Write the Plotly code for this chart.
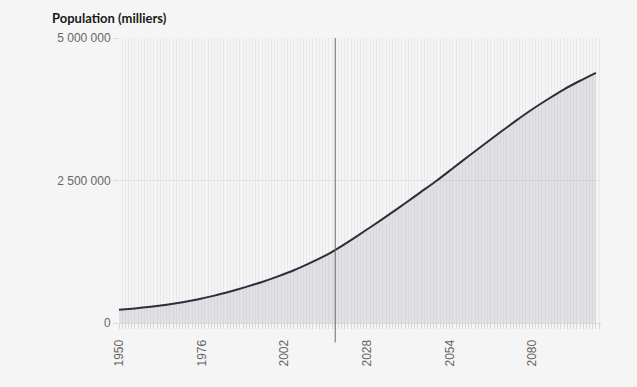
import plotly.graph_objects as go

years = list(range(1950, 2101, 5))
population = [
    232000, 256000, 286000, 322000, 366000, 418000, 480000, 553000,
    634000, 720000, 818000, 925000, 1050000, 1185000, 1350000, 1530000,
    1715000, 1905000, 2100000, 2300000, 2500000, 2715000, 2930000,
    3140000, 3350000, 3555000, 3750000, 3930000, 4100000, 4250000, 4390000,
]
x_tick_labels = [1950, 1976, 2002, 2028, 2054, 2080]
y_tick_values = [0, 2500000, 5000000]
marker_year = 2018
title_text = "Population (milliers)"

fig = go.Figure()
fig.add_trace(go.Scatter(
    x=years, y=population, mode="lines",
    line=dict(color="#29303d", width=2, shape="spline", smoothing=0.5),
    fill="tozeroy", fillcolor="rgba(180,180,188,0.30)",
    hoverinfo="skip", showlegend=False,
))

fig.add_shape(type="line", xref="x", yref="paper",
              x0=marker_year, x1=marker_year, y0=-0.068, y1=1,
              line=dict(color="#6b6b6b", width=1))

fig.update_layout(
    width=637, height=387,
    paper_bgcolor="#f5f5f5", plot_bgcolor="#f5f5f5",
    margin=dict(l=119, r=36, t=38, b=64),
    separators=", ",
    font=dict(family="Liberation Sans, Arial, sans-serif", size=12, color="#666666"),
    annotations=[dict(text="<b>" + title_text + "</b>", xref="paper", yref="paper",
                      x=-0.143, y=1.035, xanchor="left", yanchor="bottom",
                      showarrow=False,
                      font=dict(family="Lato, Open Sans, sans-serif", size=13, color="#1a1a1a"))],
)

fig.update_xaxes(
    range=[1950, 2101.6],
    tickmode="array", tickvals=x_tick_labels, ticktext=[str(v) for v in x_tick_labels],
    tickangle=-90, ticks="outside", ticklen=5, tickcolor="#d6d6d6",
    showgrid=True, gridcolor="#e9e9e9", gridwidth=1,
    minor=dict(dtick=1, tick0=1950, showgrid=True, gridcolor="#e9e9e9",
               ticks="outside", ticklen=5, tickcolor="#d6d6d6"),
    showline=True, linecolor="#d8d8d8", linewidth=1,
    zeroline=False, ticklabelstandoff=6,
    tickfont=dict(family="Liberation Sans, Arial, sans-serif", size=12, color="#666666"),
)
fig.update_yaxes(
    range=[0, 5000000],
    tickmode="array", tickvals=y_tick_values,
    tickformat=",d",
    ticks="outside", ticklen=5, tickcolor="#d6d6d6",
    showgrid=True, gridcolor="#e2e2e2",
    zeroline=False, showline=False,
    tickfont=dict(family="Liberation Sans, Arial, sans-serif", size=12, color="#666666"),
)

fig.write_html(
    "out.html",
    config={"displayModeBar": False},
    post_script="document.body.style.margin='0';document.body.style.background='#f5f5f5';",
)
